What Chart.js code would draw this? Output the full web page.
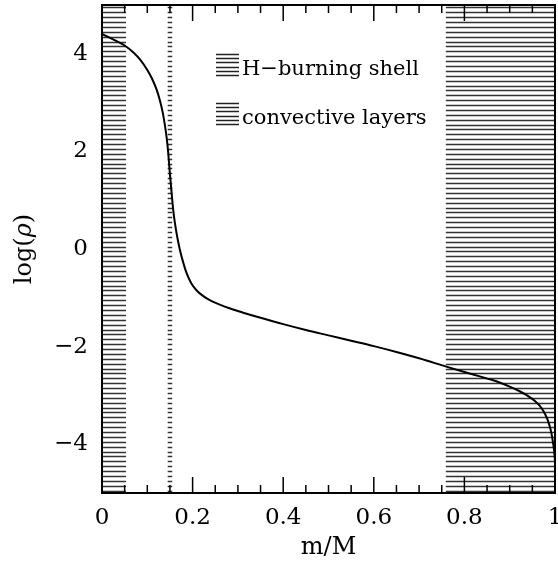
<!DOCTYPE html>
<html>
<head>
<meta charset="utf-8">
<script src="https://cdn.jsdelivr.net/npm/chart.js@4.4.1/dist/chart.umd.min.js"></script>
<style>
  html, body { margin: 0; padding: 0; background: #fff; }
  canvas { display: block; }
</style>
</head>
<body>
<canvas id="chart" width="558" height="569"></canvas>
<script>
// density profile
const massFrac = [0.000, 0.030, 0.050, 0.070, 0.085, 0.100, 0.110, 0.120, 0.128, 0.134,
  0.139, 0.143, 0.146, 0.150, 0.154, 0.157, 0.161, 0.166, 0.172, 0.180,
  0.187, 0.197, 0.209, 0.223, 0.238, 0.260, 0.283, 0.310, 0.350, 0.400,
  0.450, 0.500, 0.550, 0.600, 0.650, 0.700, 0.760, 0.800, 0.834, 0.860,
  0.879, 0.900, 0.923, 0.940, 0.955, 0.966, 0.975, 0.982, 0.988, 0.992,
  0.995, 0.998, 1.000];
const logRho = [4.41, 4.27, 4.17, 4.02, 3.87, 3.67, 3.50, 3.28, 3.04, 2.80,
  2.53, 2.26, 1.99, 1.53, 1.12, 0.82, 0.53, 0.25, -0.02, -0.30,
  -0.50, -0.70, -0.85, -0.96, -1.05, -1.14, -1.22, -1.30, -1.41, -1.54,
  -1.66, -1.77, -1.88, -1.99, -2.11, -2.24, -2.41, -2.52, -2.61, -2.68,
  -2.74, -2.82, -2.92, -3.01, -3.11, -3.21, -3.33, -3.46, -3.62, -3.77,
  -3.93, -4.13, -4.35];

const xTickVals = [0, 0.2, 0.4, 0.6, 0.8, 1];
const xTickLabels = ['0', '0.2', '0.4', '0.6', '0.8', '1'];
const yTickVals = [-4, -2, 0, 2, 4];
const yTickLabels = ['\u22124', '\u22122', '0', '2', '4'];

const convectiveZones = [[0, 0.053], [0.759, 1]];
const shellZone = [0.145, 0.155];
const legendLabels = ['H\u2212burning shell', 'convective layers'];

const FONT = "'DejaVu Serif', 'Liberation Serif', serif";

function hatch(ctx, px, py, x0, x1, step) {
  ctx.beginPath();
  for (let v = -5 + step / 2; v < 5; v += step) {
    const y = Math.round(py(v)) + 0.5;
    ctx.moveTo(px(x0), y);
    ctx.lineTo(px(x1), y);
  }
  ctx.stroke();
}

const decor = {
  id: 'decor',
  beforeDatasetsDraw(chart) {
    const { ctx, chartArea: a, scales: { x, y } } = chart;
    const px = v => x.getPixelForValue(v);
    const py = v => y.getPixelForValue(v);
    ctx.save();
    ctx.strokeStyle = '#333';
    ctx.lineWidth = 1.3;
    convectiveZones.forEach(z => hatch(ctx, px, py, z[0], z[1], 0.1));
    hatch(ctx, px, py, shellZone[0], shellZone[1], 0.1);

    // inward ticks, top and bottom
    ctx.strokeStyle = '#000';
    ctx.lineWidth = 1.5;
    ctx.beginPath();
    for (let i = 0; i <= 20; i++) {
      const len = i % 4 === 0 ? 16 : 8;
      const p = px(i * 0.05);
      ctx.moveTo(p, a.bottom); ctx.lineTo(p, a.bottom - len);
      ctx.moveTo(p, a.top); ctx.lineTo(p, a.top + len);
    }
    ctx.stroke();
    ctx.restore();
  },
  afterDraw(chart) {
    const { ctx, chartArea: a } = chart;
    ctx.save();
    ctx.strokeStyle = '#000';
    ctx.lineWidth = 2;
    ctx.strokeRect(a.left, a.top, a.right - a.left, a.bottom - a.top);

    // legend
    ctx.lineWidth = 1.3;
    ctx.strokeStyle = '#222';
    ctx.fillStyle = '#000';
    ctx.font = '21px ' + FONT;
    ctx.textBaseline = 'alphabetic';
    legendLabels.forEach((lbl, i) => {
      const top = 54 + i * 49;
      ctx.beginPath();
      for (let k = 0; k < 6; k++) {
        const yy = Math.round(top + k * 4.2) + 0.5;
        ctx.moveTo(216, yy); ctx.lineTo(239, yy);
      }
      ctx.stroke();
      ctx.fillText(lbl, 242, top + 21);
    });

    // y title with italic rho
    const parts = [['log(', ''], ['\u03c1', 'italic '], [')', '']];
    let total = 0;
    parts.forEach(p => { ctx.font = p[1] + '24px ' + FONT; total += ctx.measureText(p[0]).width; });
    ctx.translate(25, (a.top + a.bottom) / 2);
    ctx.rotate(-Math.PI / 2);
    ctx.textBaseline = 'middle';
    let xx = -total / 2;
    parts.forEach(p => {
      ctx.font = p[1] + '24px ' + FONT;
      ctx.fillText(p[0], xx, 0);
      xx += ctx.measureText(p[0]).width;
    });
    ctx.restore();
  }
};

new Chart(document.getElementById('chart'), {
  type: 'scatter',
  data: {
    datasets: [{
      data: massFrac.map((m, i) => ({ x: m, y: logRho[i] })),
      showLine: true,
      borderColor: '#000',
      borderWidth: 2,
      pointRadius: 0,
      cubicInterpolationMode: 'monotone'
    }]
  },
  options: {
    responsive: false,
    animation: false,
    layout: { padding: { top: 5, right: 3, left: 0, bottom: 0 } },
    plugins: { legend: { display: false }, tooltip: { enabled: false } },
    scales: {
      x: {
        type: 'linear', min: 0, max: 1,
        grid: { display: false, drawTicks: false },
        border: { display: false },
        afterBuildTicks: s => { s.ticks = xTickVals.map(v => ({ value: v })); },
        afterFit: s => { s.height = 76; s.paddingLeft = 0; s.paddingRight = 0; },
        ticks: {
          padding: 11, maxRotation: 0, autoSkip: false, color: '#000',
          font: { family: FONT, size: 23 },
          callback: (v, i) => xTickLabels[i]
        },
        title: {
          display: true, text: 'm/M', color: '#000',
          font: { family: FONT, size: 24 },
          padding: { top: 0, bottom: 7 }
        }
      },
      y: {
        type: 'linear', min: -5, max: 5,
        grid: { display: false, drawTicks: false },
        border: { display: false },
        afterBuildTicks: s => { s.ticks = yTickVals.map(v => ({ value: v })); },
        afterFit: s => { s.width = 102; s.paddingTop = 0; s.paddingBottom = 0; },
        ticks: {
          padding: 14, autoSkip: false, color: '#000',
          font: { family: FONT, size: 23 },
          callback: (v, i) => yTickLabels[i]
        }
      }
    }
  },
  plugins: [decor]
});
</script>
</body>
</html>
